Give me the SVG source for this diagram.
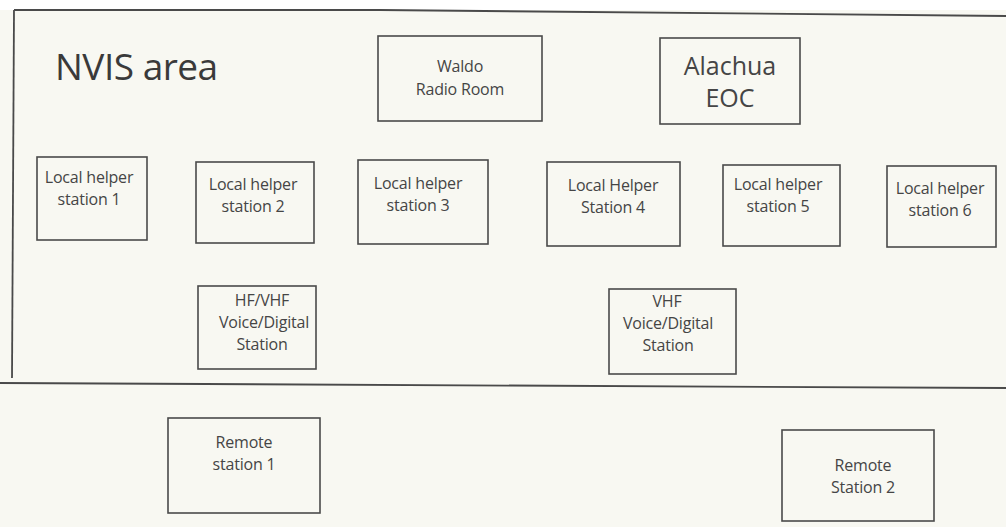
<svg xmlns="http://www.w3.org/2000/svg" width="1006" height="527" viewBox="0 0 1006 527">
<style>
.box{fill:none;stroke:#4a4a4a;stroke-width:1.6}
.ln{fill:none;stroke:#4a4a4a;stroke-width:1.8}
.t{font-family:"Open Sans","Liberation Sans",sans-serif;font-size:16px;fill:#454545;text-anchor:middle;letter-spacing:-0.2px}
.big{font-size:25px;letter-spacing:0}
.title{font-family:"Open Sans","Liberation Sans",sans-serif;font-size:37px;fill:#3a3a3a;letter-spacing:-0.5px}
</style>
<rect x="0" y="0" width="1006" height="527" fill="#f8f8f2"/>
<rect x="0" y="0" width="1006" height="10" fill="#ffffff"/>
<g id="frame">
<path class="ln" d="M14,10 L380,10 L1006,16"/>
<path class="ln" d="M14,10 L12,378"/>
<path class="ln" d="M0,383 L1006,388"/>
</g>
<g id="title"><text class="title" x="55" y="80">NVIS area</text></g>
<g id="waldo"><rect class="box" x="378" y="36" width="164" height="85"/><text class="t" x="460" y="72">Waldo</text><text class="t" x="460" y="95">Radio Room</text></g>
<g id="alachua"><rect class="box" x="660" y="38" width="140" height="86"/><text class="t big" x="730" y="75">Alachua</text><text class="t big" x="730" y="107">EOC</text></g>
<g id="lhs1"><rect class="box" x="37" y="157" width="110" height="83"/><text class="t" x="89" y="183">Local helper</text><text class="t" x="89" y="205">station 1</text></g>
<g id="lhs2"><rect class="box" x="196" y="162" width="118" height="81"/><text class="t" x="253" y="190">Local helper</text><text class="t" x="253" y="212">station 2</text></g>
<g id="lhs3"><rect class="box" x="358" y="160" width="130" height="84"/><text class="t" x="418" y="189">Local helper</text><text class="t" x="418" y="211">station 3</text></g>
<g id="lhs4"><rect class="box" x="547" y="162" width="133" height="84"/><text class="t" x="613" y="191">Local Helper</text><text class="t" x="613" y="213">Station 4</text></g>
<g id="lhs5"><rect class="box" x="723" y="165" width="117" height="81"/><text class="t" x="778" y="190">Local helper</text><text class="t" x="778" y="212">station 5</text></g>
<g id="lhs6"><rect class="box" x="887" y="166" width="109" height="81"/><text class="t" x="940" y="194">Local helper</text><text class="t" x="940" y="216">station 6</text></g>
<g id="hfvhf"><rect class="box" x="198" y="286" width="118" height="83"/><text class="t" x="262" y="306">HF/VHF</text><text class="t" x="264" y="328">Voice/Digital</text><text class="t" x="262" y="350">Station</text></g>
<g id="vhf"><rect class="box" x="609" y="289" width="127" height="85"/><text class="t" x="667" y="307">VHF</text><text class="t" x="668" y="329">Voice/Digital</text><text class="t" x="668" y="351">Station</text></g>
<g id="remote1"><rect class="box" x="168" y="418" width="152" height="95"/><text class="t" x="244" y="448">Remote</text><text class="t" x="244" y="470">station 1</text></g>
<g id="remote2"><rect class="box" x="782" y="430" width="152" height="91"/><text class="t" x="863" y="471">Remote</text><text class="t" x="863" y="493">Station 2</text></g>
<g id="connectors"></g>
</svg>
